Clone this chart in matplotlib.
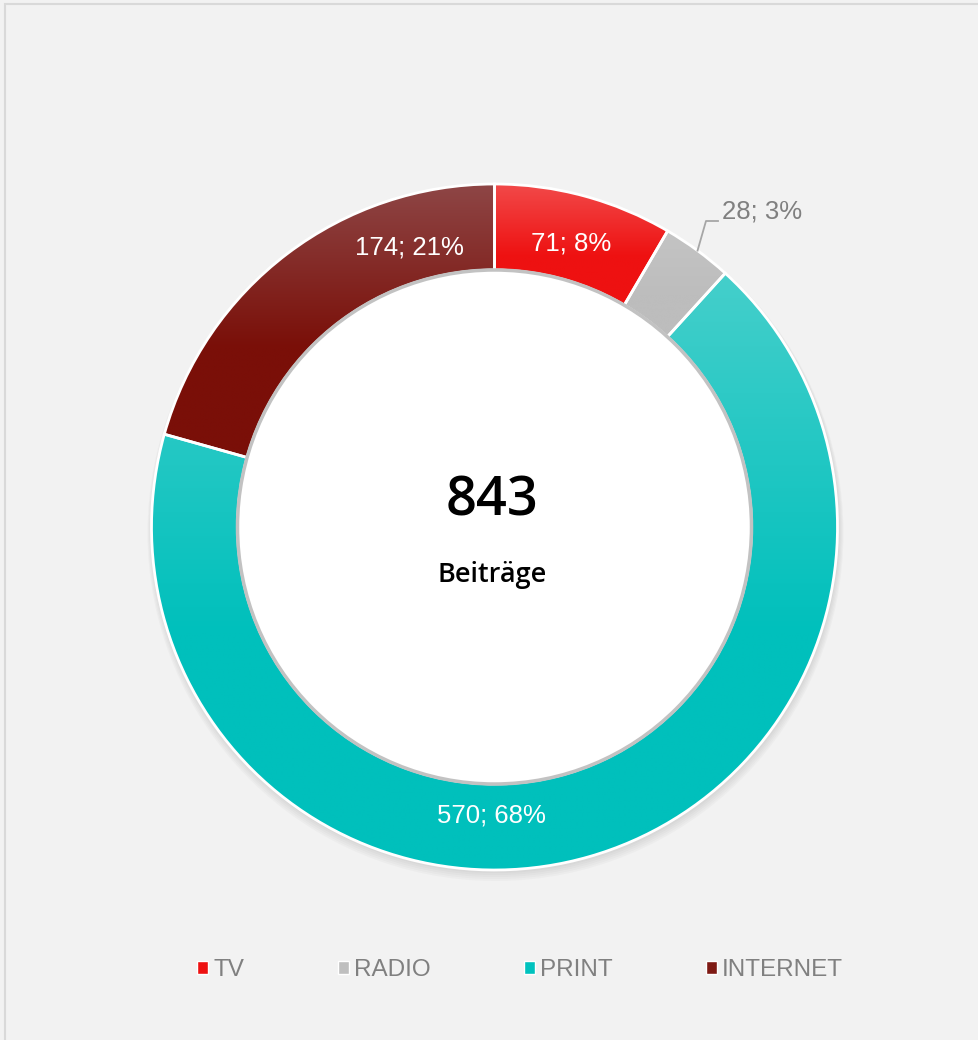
import numpy as np
import matplotlib.pyplot as plt
from matplotlib.patches import Circle, Rectangle, Patch
from matplotlib.colors import to_rgb

categories = ['TV', 'RADIO', 'PRINT', 'INTERNET']
values = [71, 28, 570, 174]
total = sum(values)

# gradient colours per slice: top colour, bottom colour
top_colors = ['#f24a4a', '#c4c4c4', '#45cfcb', '#8e4646']
bottom_colors = ['#ee1111', '#bdbdbd', '#00c0bc', '#7a0f08']
legend_colors = ['#ee1111', '#bfbfbf', '#00c2be', '#7e1a14']

W, H = 979, 1040
fig = plt.figure(figsize=(W / 100, H / 100), dpi=100)
fig.patch.set_facecolor('#f2f2f2')
ax = fig.add_axes([0, 0, 1, 1])
ax.set_facecolor('#f2f2f2')
ax.axis('off')

# frame of the chart area
ax.add_patch(Rectangle((5, -10), W + 20, H - 4 + 10, facecolor='none',
                       edgecolor='#d9d9d9', lw=1.5, zorder=0))

cx, cy = 494.5, 513
R, ring = 343, 86

# soft shadow below the ring
for k in range(5):
    ax.add_patch(Circle((cx + 1, cy - 2 - k), R + 1 + k, facecolor='#8a8a8a',
                        edgecolor='none', alpha=0.05, zorder=1))

wedges, _ = ax.pie(values, startangle=90, counterclock=False, center=(cx, cy),
                   radius=R, colors=bottom_colors,
                   wedgeprops=dict(width=ring, edgecolor='white', linewidth=2))

# vertical gradient fill inside each slice (light at top)
for w, c0, c1 in zip(wedges, top_colors, bottom_colors):
    ext = w.get_path().get_extents()
    n = 200
    t = np.linspace(0, 1, n)  # row 0 = top (origin upper)
    f = np.clip(t / 0.6, 0, 1)[:, None]
    a0, a1 = np.array(to_rgb(c0)), np.array(to_rgb(c1))
    img = a0 * (1 - f) + a1 * f
    img = np.repeat(img[:, None, :], 2, axis=1)
    im = ax.imshow(img, extent=(ext.x0, ext.x1, ext.y0, ext.y1), origin='upper',
                   aspect='auto', zorder=2, interpolation='bilinear')
    im.set_clip_path(w)
    w.set_facecolor('none')
    w.set_zorder(3)

# inner hole
ax.add_patch(Circle((cx, cy), R - ring, facecolor='white', edgecolor='#c2c2c2',
                    lw=2.5, zorder=4))

# data labels
lab_txt = ['%d; %d%%' % (v, round(v / total * 100)) for v in values]
lab_pos = [(571, 1040 - 243), None, (491, 1040 - 815), (409, 1040 - 247)]
for txt, pos in zip(lab_txt, lab_pos):
    if pos is not None:
        ax.text(pos[0], pos[1], txt, color='white', fontsize=18.5,
                family='Liberation Sans', ha='center', va='center', zorder=5)

# radio label with leader line
w = wedges[1]
mid = np.deg2rad((w.theta1 + w.theta2) / 2)
px, py = cx + R * np.cos(mid), cy + R * np.sin(mid)
ax.plot([px, 706, 718], [py, 1040 - 221, 1040 - 221], color='#a6a6a6', lw=1.3,
        zorder=5)
ax.text(722, 1040 - 212, lab_txt[1], color='#808080', fontsize=18.5,
        family='Liberation Sans', ha='left', va='center', zorder=5)

# centre text
ax.text(cx - 2, 1040 - 502, str(total), fontsize=39, family='Open Sans',
        weight='semibold', ha='center', va='center', zorder=6)
ax.text(cx - 2, 1040 - 575, 'Beiträge', fontsize=19.5, family='Open Sans',
        weight='semibold', ha='center', va='center', zorder=6)

ax.set_xlim(0, W)
ax.set_ylim(0, H)

handles = [Patch(facecolor=c, edgecolor='white', lw=1) for c in legend_colors]
leg = fig.legend(handles, categories, loc='center', bbox_to_anchor=(520 / W, 1 - 970 / H),
                 ncol=4, frameon=False, handlelength=0.45,
                 handleheight=0.45, handletextpad=0.2, columnspacing=3.85,
                 prop={'family': 'Liberation Sans', 'size': 17.5})
for t in leg.get_texts():
    t.set_color('#808080')

fig.savefig('out.png', dpi=100, facecolor=fig.get_facecolor())
